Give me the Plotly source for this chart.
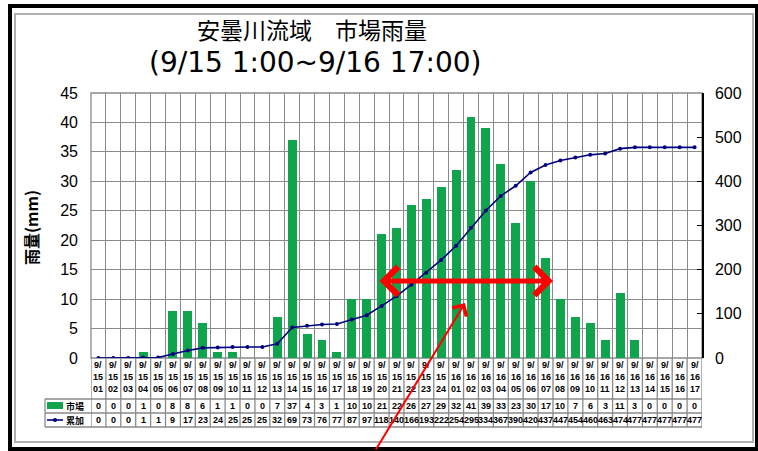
import plotly.graph_objects as go

# ---------------- data ----------------
categories = [
    "9/15 01", "9/15 02", "9/15 03", "9/15 04", "9/15 05", "9/15 06", "9/15 07", "9/15 08",
    "9/15 09", "9/15 10", "9/15 11", "9/15 12", "9/15 13", "9/15 14", "9/15 15", "9/15 16",
    "9/15 17", "9/15 18", "9/15 19", "9/15 20", "9/15 21", "9/15 22", "9/15 23", "9/15 24",
    "9/16 01", "9/16 02", "9/16 03", "9/16 04", "9/16 05", "9/16 06", "9/16 07", "9/16 08",
    "9/16 09", "9/16 10", "9/16 11", "9/16 12", "9/16 13", "9/16 14", "9/16 15", "9/16 16",
    "9/16 17",
]
hourly_rain = [0, 0, 0, 1, 0, 8, 8, 6, 1, 1, 0, 0, 7, 37, 4, 3, 1, 10, 10, 21, 22, 26, 27, 29,
               32, 41, 39, 33, 23, 30, 17, 10, 7, 6, 3, 11, 3, 0, 0, 0, 0]
cumulative_rain = [0, 0, 0, 1, 1, 9, 17, 23, 24, 25, 25, 25, 32, 69, 73, 76, 77, 87, 97, 118,
                   140, 166, 193, 222, 254, 295, 334, 367, 390, 420, 437, 447, 454, 460, 463,
                   474, 477, 477, 477, 477, 477]
series_names = ["市場", "累加"]
title_line1 = "安曇川流域　市場雨量"
title_line2 = "(9/15 1:00~9/16 17:00)"
y_left_title = "雨量(mm)"

W, H = 758, 451
L, R, T, B = 91, 702, 93, 358
PW, PH = R - L, B - T


def px(x):
    return (x - L) / PW


def py(y):
    return (B - y) / PH


GREEN = "#10a54c"
NAVY = "#000080"
GRID = "#8a8a8a"
FONT = "Liberation Sans, Arial, sans-serif"
WIDE = "DejaVu Sans, sans-serif"
NARROW = "Liberation Sans Narrow, Liberation Sans, Arial, sans-serif"
JP = "Noto Sans CJK JP, sans-serif"

n = len(categories)
xs = list(range(n))

fig = go.Figure()
fig.add_trace(go.Bar(x=xs, y=hourly_rain, width=0.6, marker_color=GREEN,
                     marker_line_width=0, name=series_names[0], yaxis="y"))
fig.add_trace(go.Scatter(x=xs, y=cumulative_rain, mode="lines+markers", name=series_names[1],
                         line=dict(color=NAVY, width=1.6), marker=dict(color=NAVY, size=4),
                         yaxis="y2"))

shapes = []
# outer frames
shapes.append(dict(type="rect", xref="paper", yref="paper", x0=px(10), x1=px(757), y0=py(449),
                   y1=py(6), line=dict(color="black", width=4)))
shapes.append(dict(type="rect", xref="paper", yref="paper", x0=px(15), x1=px(753), y0=py(442),
                   y1=py(14), line=dict(color="#b0b0b0", width=2)))
# plot border
shapes.append(dict(type="rect", xref="paper", yref="paper", x0=0, x1=1, y0=0, y1=1,
                   line=dict(color=GRID, width=1.3), layer="below"))
# table vertical lines
for i in range(n + 1):
    shapes.append(dict(type="line", xref="x", yref="paper", x0=i - 0.5, x1=i - 0.5,
                       y0=0, y1=py(427), line=dict(color=GRID, width=1.3)))
# table horizontal lines
for yy in (399, 413, 427):
    shapes.append(dict(type="line", xref="paper", yref="paper", x0=px(45), x1=1,
                       y0=py(yy), y1=py(yy), line=dict(color=GRID, width=1.3)))
shapes.append(dict(type="line", xref="paper", yref="paper", x0=px(45), x1=px(45),
                   y0=py(399), y1=py(427), line=dict(color=GRID, width=1.3)))
# legend symbols
shapes.append(dict(type="rect", xref="paper", yref="paper", x0=px(47), x1=px(63),
                   y0=py(409), y1=py(402), fillcolor=GREEN, line=dict(width=0)))
shapes.append(dict(type="line", xref="paper", yref="paper", x0=px(47), x1=px(63),
                   y0=py(420), y1=py(420), line=dict(color=NAVY, width=1.6)))
shapes.append(dict(type="circle", xref="paper", yref="paper", x0=px(53), x1=px(57),
                   y0=py(422), y1=py(418), fillcolor=NAVY, line=dict(width=0)))

ann = []
ann.append(dict(text=title_line1, xref="paper", yref="paper", x=px(312), y=py(29),
                showarrow=False, font=dict(family=JP, size=23, color="black"),
                xanchor="center", yanchor="middle"))
ann.append(dict(text=title_line2, xref="paper", yref="paper", x=px(315), y=py(62.5),
                showarrow=False, font=dict(family=WIDE, size=28, color="black"),
                xanchor="center", yanchor="middle"))
ann.append(dict(text="<b>" + y_left_title + "</b>", xref="paper", yref="paper", x=px(31),
                y=py(228), showarrow=False, textangle=-90,
                font=dict(family=JP, size=16, color="black"),
                xanchor="center", yanchor="middle"))
# table text
for i, c in enumerate(categories):
    md, hh = c.split(" ")
    m, d = md.split("/")
    for k, t in enumerate((m + "/", d, hh)):
        ann.append(dict(text="<b>" + t + "</b>", xref="x", yref="paper", x=i,
                        y=py(365 + 12 * k), showarrow=False,
                        font=dict(family=NARROW, size=9, color="black"),
                        xanchor="center", yanchor="middle"))
    ann.append(dict(text="<b>" + str(hourly_rain[i]) + "</b>", xref="x", yref="paper", x=i,
                    y=py(406), showarrow=False, font=dict(family=NARROW, size=9, color="black"),
                    xanchor="center", yanchor="middle"))
    ann.append(dict(text="<b>" + str(cumulative_rain[i]) + "</b>", xref="x", yref="paper",
                    x=i, y=py(420), showarrow=False,
                    font=dict(family=NARROW, size=9, color="black"),
                    xanchor="center", yanchor="middle"))
ann.append(dict(text="<b>" + series_names[0] + "</b>", xref="paper", yref="paper", x=px(64),
                y=py(406), showarrow=False, font=dict(family=JP, size=9, color="black"),
                xanchor="left", yanchor="middle"))
ann.append(dict(text="<b>" + series_names[1] + "</b>", xref="paper", yref="paper", x=px(64),
                y=py(420), showarrow=False, font=dict(family=JP, size=9, color="black"),
                xanchor="left", yanchor="middle"))
# red arrows
ann.append(dict(text="", xref="x domain", yref="y domain", x=px(553), y=py(281),
                ax=px(378), ay=py(281), axref="x domain", ayref="y domain",
                showarrow=True, arrowhead=4, startarrowhead=4, arrowside="end+start",
                arrowwidth=5, arrowsize=1.1, startarrowsize=1.1, arrowcolor="#ff0000"))
ann.append(dict(text="", xref="paper", yref="paper", x=px(465), y=py(303),
                ax=-90, ay=150, showarrow=True, arrowhead=4, arrowwidth=2, arrowsize=1.6,
                arrowcolor="#ff0000"))

fig.update_layout(
    width=W, height=H,
    margin=dict(l=L, r=W - R, t=T, b=H - B, pad=0),
    paper_bgcolor="white", plot_bgcolor="white",
    showlegend=False,
    bargap=0,
    xaxis=dict(range=[-0.5, n - 0.5], tickmode="linear", tick0=-0.5, dtick=1,
               showticklabels=False, showgrid=True, gridcolor=GRID, gridwidth=1.3,
               zeroline=False, showline=False, fixedrange=True),
    yaxis=dict(range=[0, 45], tickmode="linear", tick0=0, dtick=5, showgrid=True,
               gridcolor=GRID, gridwidth=1.3, zeroline=False, showline=False,
               ticks="", ticklabelstandoff=12,
               tickfont=dict(family=FONT, size=16, color="black")),
    yaxis2=dict(range=[0, 600], tickmode="linear", tick0=0, dtick=100, overlaying="y",
                side="right", showgrid=False, zeroline=False, showline=True,
                linecolor="black", linewidth=1.5, ticks="inside", ticklen=5,
                tickcolor="black", ticklabelstandoff=8,
                tickfont=dict(family=FONT, size=16, color="black")),
    shapes=shapes,
    annotations=ann,
)

fig.write_html("out.html", config={"displayModeBar": False},
               post_script="document.body.style.margin='0';")
